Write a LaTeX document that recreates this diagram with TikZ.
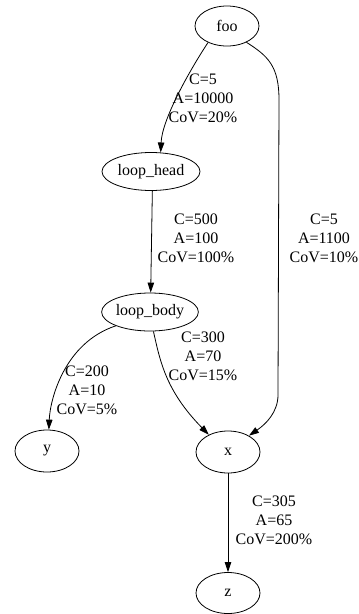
\documentclass[tikz,border=0pt]{standalone}
\usepackage{fontspec}
\setmainfont{Liberation Serif}
\usetikzlibrary{arrows.meta,shapes.geometric}
\begin{document}
\begin{tikzpicture}[x=1pt,y=-1pt,
  nd/.style={draw,ellipse,inner sep=0pt,line width=0.8pt,font=\fontsize{16}{19}\selectfont},
  lbl/.style={align=center,inner sep=0pt,font=\fontsize{16}{19}\selectfont},
  edge/.style={line width=0.8pt,-{Triangle[length=10pt,width=6.5pt]}}]
\useasboundingbox (0,0) rectangle (359,614);
\node[nd,minimum width=64pt,minimum height=40pt] (foo) at (227,26) {foo};
\node[nd,minimum width=98pt,minimum height=38pt] (lh) at (151,171.5) {loop\_head};
\node[nd,minimum width=96pt,minimum height=38pt] (lb) at (150,312) {loop\_body};
\node[nd,minimum width=64pt,minimum height=42pt] (y) at (47,451) {y};
\node[nd,minimum width=64pt,minimum height=42pt] (x) at (228,452) {x};
\node[nd,minimum width=64pt,minimum height=41pt] (z) at (228,593) {z};
\draw[edge] (foo.-139) .. controls (188,73) and (162,120) .. (lh.63);
\draw[edge] (foo.-40) .. controls (268,56) and (279,66) .. (279,100) -- (278,395) .. controls (278,412) and (266,424) .. (x.38);
\draw[edge] (lh.-86) -- (lb.88);
\draw[edge] (lb.-158) .. controls (64,343) and (50,400) .. (y.85);
\draw[edge] (lb.-80) .. controls (160,360) and (165,390) .. (x.138);
\draw[edge] (x) -- (z);
\node[lbl] (l1) at (203,98) {C=5\\A=10000\\CoV=20\%};
\node[lbl] (l2) at (196,238.5) {C=500\\A=100\\CoV=100\%};
\node[lbl] (l3) at (324,238.5) {C=5\\A=1100\\CoV=10\%};
\node[lbl] (l4) at (87,390) {C=200\\A=10\\CoV=5\%};
\node[lbl] (l5) at (203,356) {C=300\\A=70\\CoV=15\%};
\node[lbl] (l6) at (274,520) {C=305\\A=65\\CoV=200\%};
\end{tikzpicture}
\end{document}
